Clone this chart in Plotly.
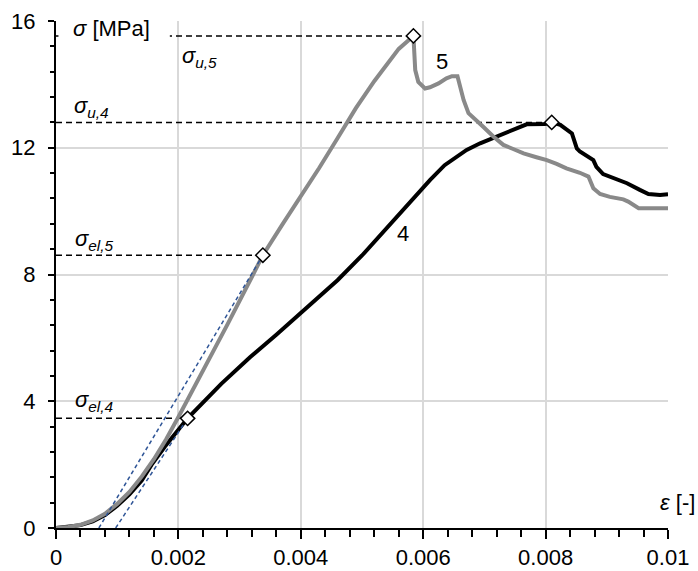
import plotly.graph_objects as go

# ---- data ----
strain_5 = [0, 0.0002, 0.0004, 0.0006, 0.0008, 0.001, 0.0012, 0.0014, 0.0016, 0.0018, 0.002,
            0.0024, 0.0028, 0.0032, 0.00338, 0.0037, 0.004, 0.0043, 0.0046, 0.0049, 0.0052,
            0.0054, 0.0056, 0.00584, 0.00586, 0.00587, 0.00592, 0.00603, 0.00611, 0.00625,
            0.00638, 0.00647, 0.00656, 0.0066, 0.00666, 0.00674, 0.00687, 0.00698, 0.00715,
            0.00731, 0.00747, 0.00764, 0.00785, 0.00802, 0.00818, 0.00834, 0.00856, 0.0087,
            0.00878, 0.00889, 0.00905, 0.00927, 0.00935, 0.00952, 0.01]
stress_5 = [0, 0.03, 0.10, 0.24, 0.45, 0.76, 1.14, 1.62, 2.17, 2.80, 3.50,
            4.95, 6.42, 7.92, 8.61, 9.58, 10.46, 11.36, 12.30, 13.25, 14.10,
            14.62, 15.12, 15.53, 15.00, 14.45, 14.08, 13.87, 13.91, 14.03,
            14.19, 14.26, 14.26, 13.93, 13.51, 13.09, 12.87, 12.66, 12.35,
            12.09, 11.96, 11.82, 11.70, 11.61, 11.49, 11.35, 11.21, 11.09,
            10.72, 10.54, 10.45, 10.37, 10.30, 10.09, 10.09]

strain_4 = [0, 0.0002, 0.0004, 0.0006, 0.0008, 0.001, 0.0012, 0.0014, 0.00156, 0.00178, 0.002,
            0.00215, 0.0027, 0.00317, 0.0036, 0.004, 0.0046, 0.005, 0.0053,
            0.00573, 0.00611, 0.00635, 0.00655, 0.00671, 0.00693, 0.0072,
            0.00747, 0.00769, 0.00799, 0.0081, 0.00824, 0.00843, 0.00851, 0.00856, 0.00878,
            0.00883, 0.00894, 0.00911, 0.00933, 0.00954, 0.00968, 0.00987, 0.01]
stress_4 = [0, 0.03, 0.09, 0.21, 0.41, 0.70, 1.06, 1.50, 1.99, 2.57, 3.09,
            3.46, 4.55, 5.39, 6.10, 6.80, 7.82, 8.60, 9.25,
            10.14, 10.98, 11.45, 11.72, 11.93, 12.14, 12.35,
            12.56, 12.74, 12.75, 12.80, 12.72, 12.45, 11.98, 11.88, 11.61,
            11.40, 11.17, 11.03, 10.88, 10.67, 10.54, 10.51, 10.53]

# characteristic points: elastic limit and ultimate strength
point_names = ["el,4", "el,5", "u,4", "u,5"]
point_strain = [0.00215, 0.00338, 0.0081, 0.00584]
point_stress = [3.46, 8.61, 12.80, 15.53]

# elastic tangent lines (strain at zero stress -> elastic limit point)
tangent_start_4 = 0.000975
tangent_start_5 = 0.0007

x_ticks = [0, 0.002, 0.004, 0.006, 0.008, 0.01]
x_tick_labels = ["0", "0.002", "0.004", "0.006", "0.008", "0.01"]
y_ticks = [0, 4, 8, 12, 16]
y_tick_labels = ["0", "4", "8", "12", "16"]

FONT = "Liberation Sans, Arial, sans-serif"
FS = 22
GRAY = "#898989"
BLUE = "#2f5597"

fig = go.Figure()

# dashed reference lines from the axis to each characteristic point
for xs, ys in zip(point_strain, point_stress):
    fig.add_trace(go.Scatter(x=[0, xs], y=[ys, ys], mode="lines",
                             line=dict(color="black", width=1.5, dash="6px,4px"),
                             hoverinfo="skip"))

fig.add_trace(go.Scatter(x=strain_4, y=stress_4, mode="lines",
                         line=dict(color="black", width=4), hoverinfo="skip"))
fig.add_trace(go.Scatter(x=strain_5, y=stress_5, mode="lines",
                         line=dict(color=GRAY, width=4), hoverinfo="skip"))

# tangent lines
fig.add_trace(go.Scatter(x=[tangent_start_5, point_strain[1]], y=[0, point_stress[1]],
                         mode="lines", line=dict(color=BLUE, width=1.5, dash="4px,3px"),
                         hoverinfo="skip"))
fig.add_trace(go.Scatter(x=[tangent_start_4, point_strain[0]], y=[0, point_stress[0]],
                         mode="lines", line=dict(color=BLUE, width=1.5, dash="4px,3px"),
                         hoverinfo="skip"))

fig.add_trace(go.Scatter(x=point_strain, y=point_stress, mode="markers",
                         marker=dict(symbol="diamond", size=11, color="white",
                                     line=dict(color="black", width=1.5)),
                         hoverinfo="skip"))

ann_font = dict(family=FONT, size=FS, color="black")
label_pos = {"u,5": (0.00203, 14.86), "u,4": (0.00026, 13.28),
             "el,5": (0.00028, 9.09), "el,4": (0.00028, 4.01)}
for name in point_names:
    lx, ly = label_pos[name]
    fig.add_annotation(x=lx, y=ly, xref="x", yref="y", xanchor="left", yanchor="middle",
                       text=f"<i>σ<sub>{name}</sub></i>", showarrow=False, font=ann_font)

fig.add_annotation(x=0.0063, y=14.71, text="5", showarrow=False, font=ann_font)
fig.add_annotation(x=0.005675, y=9.30, text="4", showarrow=False, font=ann_font)

# white boxes behind the axis titles
fig.add_shape(type="rect", xref="paper", yref="paper", x0=0.004, x1=0.186, y0=0.962, y1=1.02,
              fillcolor="white", line=dict(width=0), layer="above")
fig.add_shape(type="rect", xref="paper", yref="paper", x0=0.971, x1=1.049, y0=0.005, y1=0.089,
              fillcolor="white", line=dict(width=0), layer="above")

fig.add_annotation(xref="paper", yref="paper", x=0.024, y=0.986, xanchor="left", yanchor="middle",
                   text="<i>σ</i> [MPa]", showarrow=False, font=ann_font)
fig.add_annotation(xref="paper", yref="paper", x=1.016, y=0.051, xanchor="center", yanchor="middle",
                   text="<i>ε</i> [-]", showarrow=False, font=ann_font)

fig.update_layout(
    width=698, height=571,
    margin=dict(l=56, r=30, t=21, b=43, autoexpand=False),
    paper_bgcolor="white", plot_bgcolor="white",
    showlegend=False,
    font=dict(family=FONT, size=FS, color="black"),
)
fig.update_xaxes(range=[0, 0.01], tickvals=x_ticks, ticktext=x_tick_labels,
                 showgrid=True, gridcolor="#d9d9d9", gridwidth=1.5, zeroline=False,
                 showline=True, linecolor="black", linewidth=2,
                 ticks="outside", ticklen=9, tickwidth=2, tickcolor="black",
                 minor=dict(dtick=0.0004, ticks="outside", ticklen=7, tickwidth=1.5,
                            tickcolor="black", showgrid=False),
                 tickfont=dict(family=FONT, size=FS, color="black"))
fig.update_yaxes(range=[0, 16], tickvals=y_ticks, ticktext=y_tick_labels,
                 showgrid=True, gridcolor="#d9d9d9", gridwidth=1.5, zeroline=False,
                 showline=True, linecolor="black", linewidth=2,
                 ticks="outside", ticklen=6, tickwidth=2, tickcolor="black",
                 ticklabelstandoff=8,
                 minor=dict(dtick=0.8, ticks="outside", ticklen=4, tickwidth=1.5,
                            tickcolor="black", showgrid=False),
                 tickfont=dict(family=FONT, size=FS, color="black"))

fig.write_html("out.html", config={"displayModeBar": False},
               post_script="document.body.style.margin='0';")
